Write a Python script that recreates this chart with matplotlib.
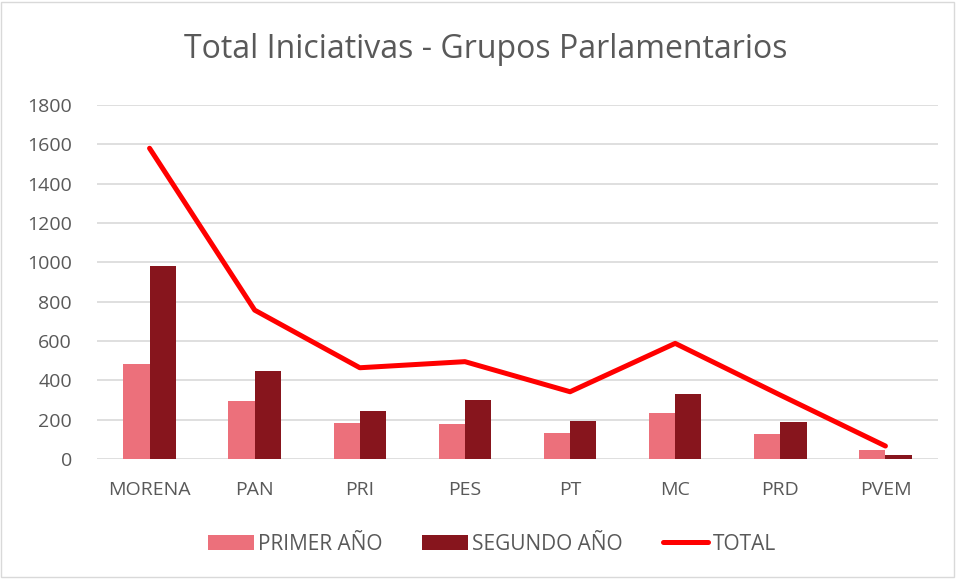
import numpy as np
import matplotlib.pyplot as plt
from matplotlib.patches import Rectangle

partidos = ['MORENA', 'PAN', 'PRI', 'PES', 'PT', 'MC', 'PRD', 'PVEM']
primer_anio = [481, 295, 183, 178, 130, 235, 127, 46]
segundo_anio = [983, 446, 242, 302, 192, 329, 188, 19]
total = [1580, 757, 464, 495, 342, 588, 325, 66]

plt.rcParams['font.family'] = ['Open Sans', 'DejaVu Sans']
gris = '#595959'

fig = plt.figure(figsize=(9.56, 5.79), dpi=100)
ax = fig.add_axes([97/956, 1 - 459/579, (938-97)/956, (459-105)/579])

x = np.arange(len(partidos))
w = 0.25
b1 = ax.bar(x - w/2, primer_anio, width=w, color='#EC707B', label='PRIMER AÑO', zorder=2)
b2 = ax.bar(x + w/2, segundo_anio, width=w, color='#87151D', label='SEGUNDO AÑO', zorder=2)
l1, = ax.plot(x, total, color='#FF0000', lw=3.6, solid_capstyle='round', label='TOTAL', zorder=3)

ax.set_xlim(-0.5, len(partidos) - 0.5)
ax.set_ylim(0, 1800)
ax.set_yticks(np.arange(0, 1801, 200))
ax.set_xticks(x)
ax.set_xticklabels(partidos)
ax.yaxis.grid(True, color='#D9D9D9', lw=1.2, zorder=0)
ax.tick_params(length=0, labelsize=14, labelcolor=gris)
ax.tick_params(axis='y', pad=18)
ax.tick_params(axis='x', pad=16)
for s in ax.spines.values():
    s.set_visible(False)

fig.text(486/956, 1 - 50/579, 'Total Iniciativas - Grupos Parlamentarios', ha='center', va='center',
         fontsize=23, color=gris)

fig.legend([b1, b2, l1], ['PRIMER AÑO', 'SEGUNDO AÑO', 'TOTAL'], loc='center',
           bbox_to_anchor=(492/956, 1 - 544/579), ncol=3, frameon=False,
           fontsize=15, labelcolor=gris, handlelength=2.2, handletextpad=0.2, columnspacing=1.9)

fig.patches.append(Rectangle((1/956, 2/579), 953/956, 575/579, transform=fig.transFigure,
                             fill=False, edgecolor='#D9D9D9', lw=1))

fig.savefig('out.png', dpi=100)
